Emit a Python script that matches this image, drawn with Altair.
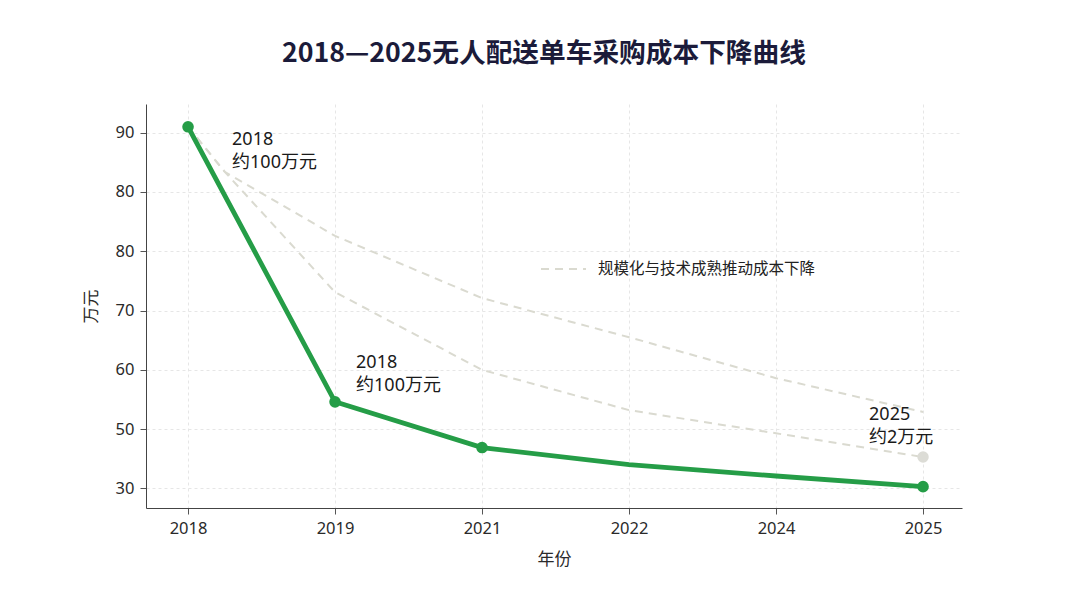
import altair as alt
import pandas as pd

# ---- data ----
year_labels = ["2018", "2019", "2021", "2022", "2024", "2025"]
x_index = [0, 1, 2, 3, 4, 5]
main_cost = [91.0, 44.6, 36.9, 34.0, 32.1, 30.3]
main_marked = [True, True, True, False, False, True]

upper_x = [0, 0.25, 1, 2, 3, 4, 5]
upper_cost = [91.0, 83.4, 72.6, 62.1, 55.5, 48.6, 42.9]
lower_x = [0, 0.25, 1, 2, 3, 4, 5]
lower_cost = [91.0, 83.4, 63.1, 50.0, 43.2, 39.3, 35.3]

y_tick_values = [30, 40, 50, 60, 70, 80, 90]
y_tick_labels = ["30", "50", "60", "70", "80", "80", "90"]

legend_label = "规模化与技术成熟推动成本下降"
ann_texts = [["2018", "约100万元"], ["2018", "约100万元"], ["2025", "约2万元"]]

GREEN = "#259d47"
DASH = "#dadad0"
FONT = "Noto Sans, Noto Sans CJK SC"

main_df = pd.DataFrame({"x": x_index, "y": main_cost, "m": main_marked})
dash_df = pd.concat([
    pd.DataFrame({"x": upper_x, "y": upper_cost, "s": "upper", "leg": legend_label}),
    pd.DataFrame({"x": lower_x, "y": lower_cost, "s": "lower", "leg": legend_label}),
])
end_df = pd.DataFrame({"x": [lower_x[-1]], "y": [lower_cost[-1]]})

label_map = "{" + ",".join(f"'{v}':'{l}'" for v, l in zip(x_index, year_labels)) + "}"
ylabel_map = "{" + ",".join(f"'{v}':'{l}'" for v, l in zip(y_tick_values, y_tick_labels)) + "}"

x_scale = alt.Scale(domain=[-0.286, 5.265], nice=False, zero=False)
y_scale = alt.Scale(domain=[26.7, 94.84], nice=False, zero=False)

x_enc = alt.X("x:Q", scale=x_scale, title="年份",
              axis=alt.Axis(values=x_index, labelExpr=f"{label_map}[datum.value]",
                            labelFontSize=16.5, titleFontSize=17, titlePadding=15,
                            labelPadding=6))
y_enc = alt.Y("y:Q", scale=y_scale, title="万元",
              axis=alt.Axis(values=y_tick_values, labelExpr=f"{ylabel_map}[datum.value]",
                            labelFontSize=16.5, titleFontSize=17, titlePadding=15,
                            labelPadding=6))

dash = alt.Chart(dash_df).mark_line(strokeDash=[8, 6], strokeWidth=2).encode(
    x=x_enc, y=y_enc, detail="s:N",
    color=alt.Color("leg:N", scale=alt.Scale(domain=[legend_label], range=[DASH]),
                    legend=alt.Legend(title=None, orient="none", legendX=394, legendY=141.5,
                                      symbolType="stroke", symbolSize=2025,
                                      symbolStrokeWidth=2, symbolDash=[8, 6],
                                      labelFontSize=15.5, labelColor="#222",
                                      labelOffset=11, labelFont=FONT, labelLimit=0)),
)

end_pt = alt.Chart(end_df).mark_point(filled=True, size=130, color="#dcdcd6", opacity=1).encode(
    x="x:Q", y="y:Q")

line = alt.Chart(main_df).mark_line(color=GREEN, strokeWidth=4.8).encode(x="x:Q", y="y:Q")
pts = alt.Chart(main_df).transform_filter("datum.m").mark_point(
    filled=True, size=135, color=GREEN, opacity=1).encode(x="x:Q", y="y:Q")

def ann(df, dx, dy):
    return alt.Chart(df).mark_text(align="left", baseline="top", fontSize=18, lineHeight=23,
                                   color="#1a1a1a", dx=dx, dy=dy, font=FONT).encode(
        x="x:Q", y="y:Q", text="t")

a1 = ann(pd.DataFrame({"x": [x_index[0]], "y": [main_cost[0]], "t": [ann_texts[0]]}), 44, 4)
a2 = ann(pd.DataFrame({"x": [x_index[1]], "y": [main_cost[1]], "t": [ann_texts[1]]}), 21, -48)
a3 = ann(pd.DataFrame({"x": [lower_x[-1]], "y": [lower_cost[-1]], "t": [ann_texts[2]]}), -54, -51)

chart = alt.layer(dash, end_pt, line, pts, a1, a2, a3).properties(
    width=816, height=404,
    autosize=alt.AutoSizeParams(type="none"),
    padding={"left": 138, "top": 96, "right": 110, "bottom": 91},
    background="white",
    title=alt.TitleParams("2018—2025无人配送单车采购成本下降曲线", fontSize=26.7, fontWeight="bold",
                          color="#1b1b3a", anchor="middle", dx=-10, offset=36,
                          font="Noto Sans CJK SC"),
).configure_view(stroke=None).configure_axis(
    grid=True, gridColor="#e6e6e6", gridDash=[3, 3], gridWidth=1,
    domainColor="#444", domainWidth=1, tickColor="#555", tickSize=6,
    labelColor="#2a2a2a", titleColor="#2a2a2a", labelFont=FONT, titleFont=FONT,
    titleFontWeight="normal",
)

chart.save("out.html", embed_options={"renderer": "svg", "actions": False})
